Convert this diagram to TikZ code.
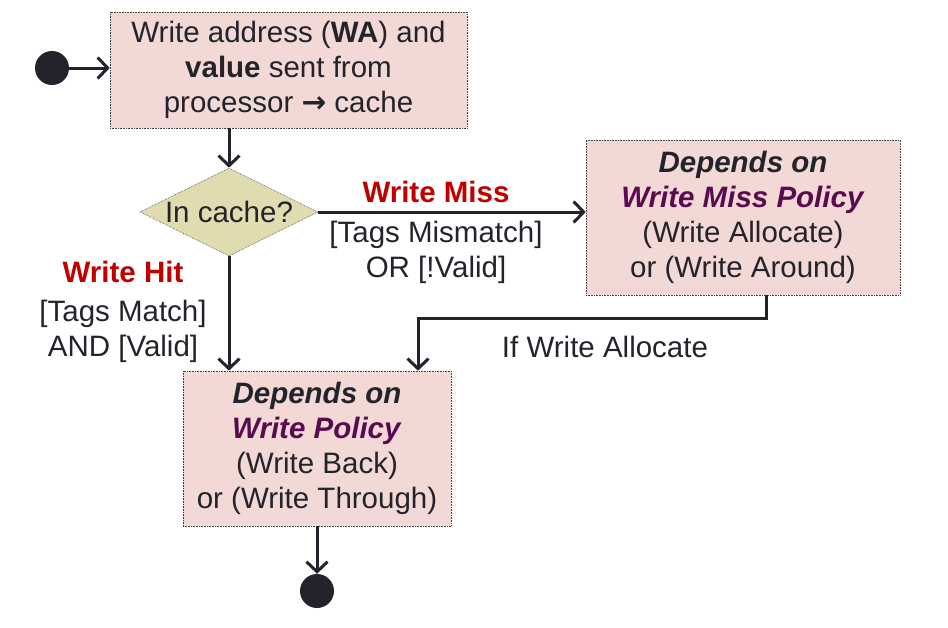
\documentclass[tikz,border=0pt]{standalone}
\usepackage{fontspec}
\setmainfont{Liberation Sans}
\newfontfamily\symfont{DejaVu Sans}
\usetikzlibrary{shapes.geometric,arrows.meta,calc}
\definecolor{ink}{HTML}{23232B}
\definecolor{boxpink}{HTML}{F2D9D6}
\definecolor{diafill}{HTML}{E0DCB0}
\definecolor{hitred}{HTML}{C00000}
\definecolor{polpurple}{HTML}{5A0B4F}
\begin{document}
\begin{tikzpicture}[x=1pt,y=-1pt,
  txt/.style={font=\fontsize{29.5}{35}\selectfont, text=ink, align=center, inner sep=0pt},
  box/.style={txt, draw=black!75, densely dotted, line width=0.6pt, fill=boxpink},
  conn/.style={draw=ink, line width=3pt, -{Straight Barb[length=10pt,width=21pt]}},
  dot/.style={circle, fill=ink, minimum size=34pt, inner sep=0pt}]
\useasboundingbox (0,0) rectangle (948,627);

\node[dot] (start) at (52,68) {};
\node[box, minimum width=357pt, minimum height=116pt] (wa) at (288.5,70)
  {Write address (\textbf{WA}) and\\ \textbf{value} sent from\\ processor {\symfont\bfseries →} cache};

\node[txt, shape=diamond, aspect=2, draw=black!75, densely dotted, line width=0.6pt,
  fill=diafill, minimum width=178pt, minimum height=88pt] (dia) at (229,212) {In cache?};

\node[box, minimum width=314pt, minimum height=155pt] (miss) at (743,217.5)
  {\textbf{\textit{Depends on}}\\ \textcolor{polpurple}{\textbf{\textit{Write Miss Policy}}}\\ (Write Allocate)\\ or (Write Around)};

\node[box, minimum width=268pt, minimum height=155pt] (wp) at (317,448.5)
  {\textbf{\textit{Depends on}}\\ \textcolor{polpurple}{\textbf{\textit{Write Policy}}}\\ (Write Back)\\ or (Write Through)};

\node[dot] (stop) at (317,591) {};

% labels
\node[txt, text=hitred] (lmiss) at (436,192) {\textbf{Write Miss}};
\node[txt] (lmisscond) at (436,252) {[Tags Mismatch]\\ OR [!Valid]};
\node[txt, text=hitred] (lhit) at (123,272) {\textbf{Write Hit}};
\node[txt] (lhitcond) at (123,331) {[Tags Match]\\ AND [Valid]};
\node[txt] (lalloc) at (605,347) {If Write Allocate};

% connectors
\draw[conn] (start.east) -- (start.east -| wa.west);
\draw[conn] (wa.south -| dia.north) -- (dia.north);
\draw[conn] (dia.east) -- (dia.east -| miss.west);
\draw[conn] (dia.south) -- (dia.south |- wp.north);
\coordinate (mout) at ($(miss.south)+(23,0)$);
\coordinate (win) at ($(wp.north)+(101,0)$);
\draw[conn] (mout) -- ++(0,23) -| (win);
\draw[conn] (wp.south) -- (stop.north);
\end{tikzpicture}
\end{document}
